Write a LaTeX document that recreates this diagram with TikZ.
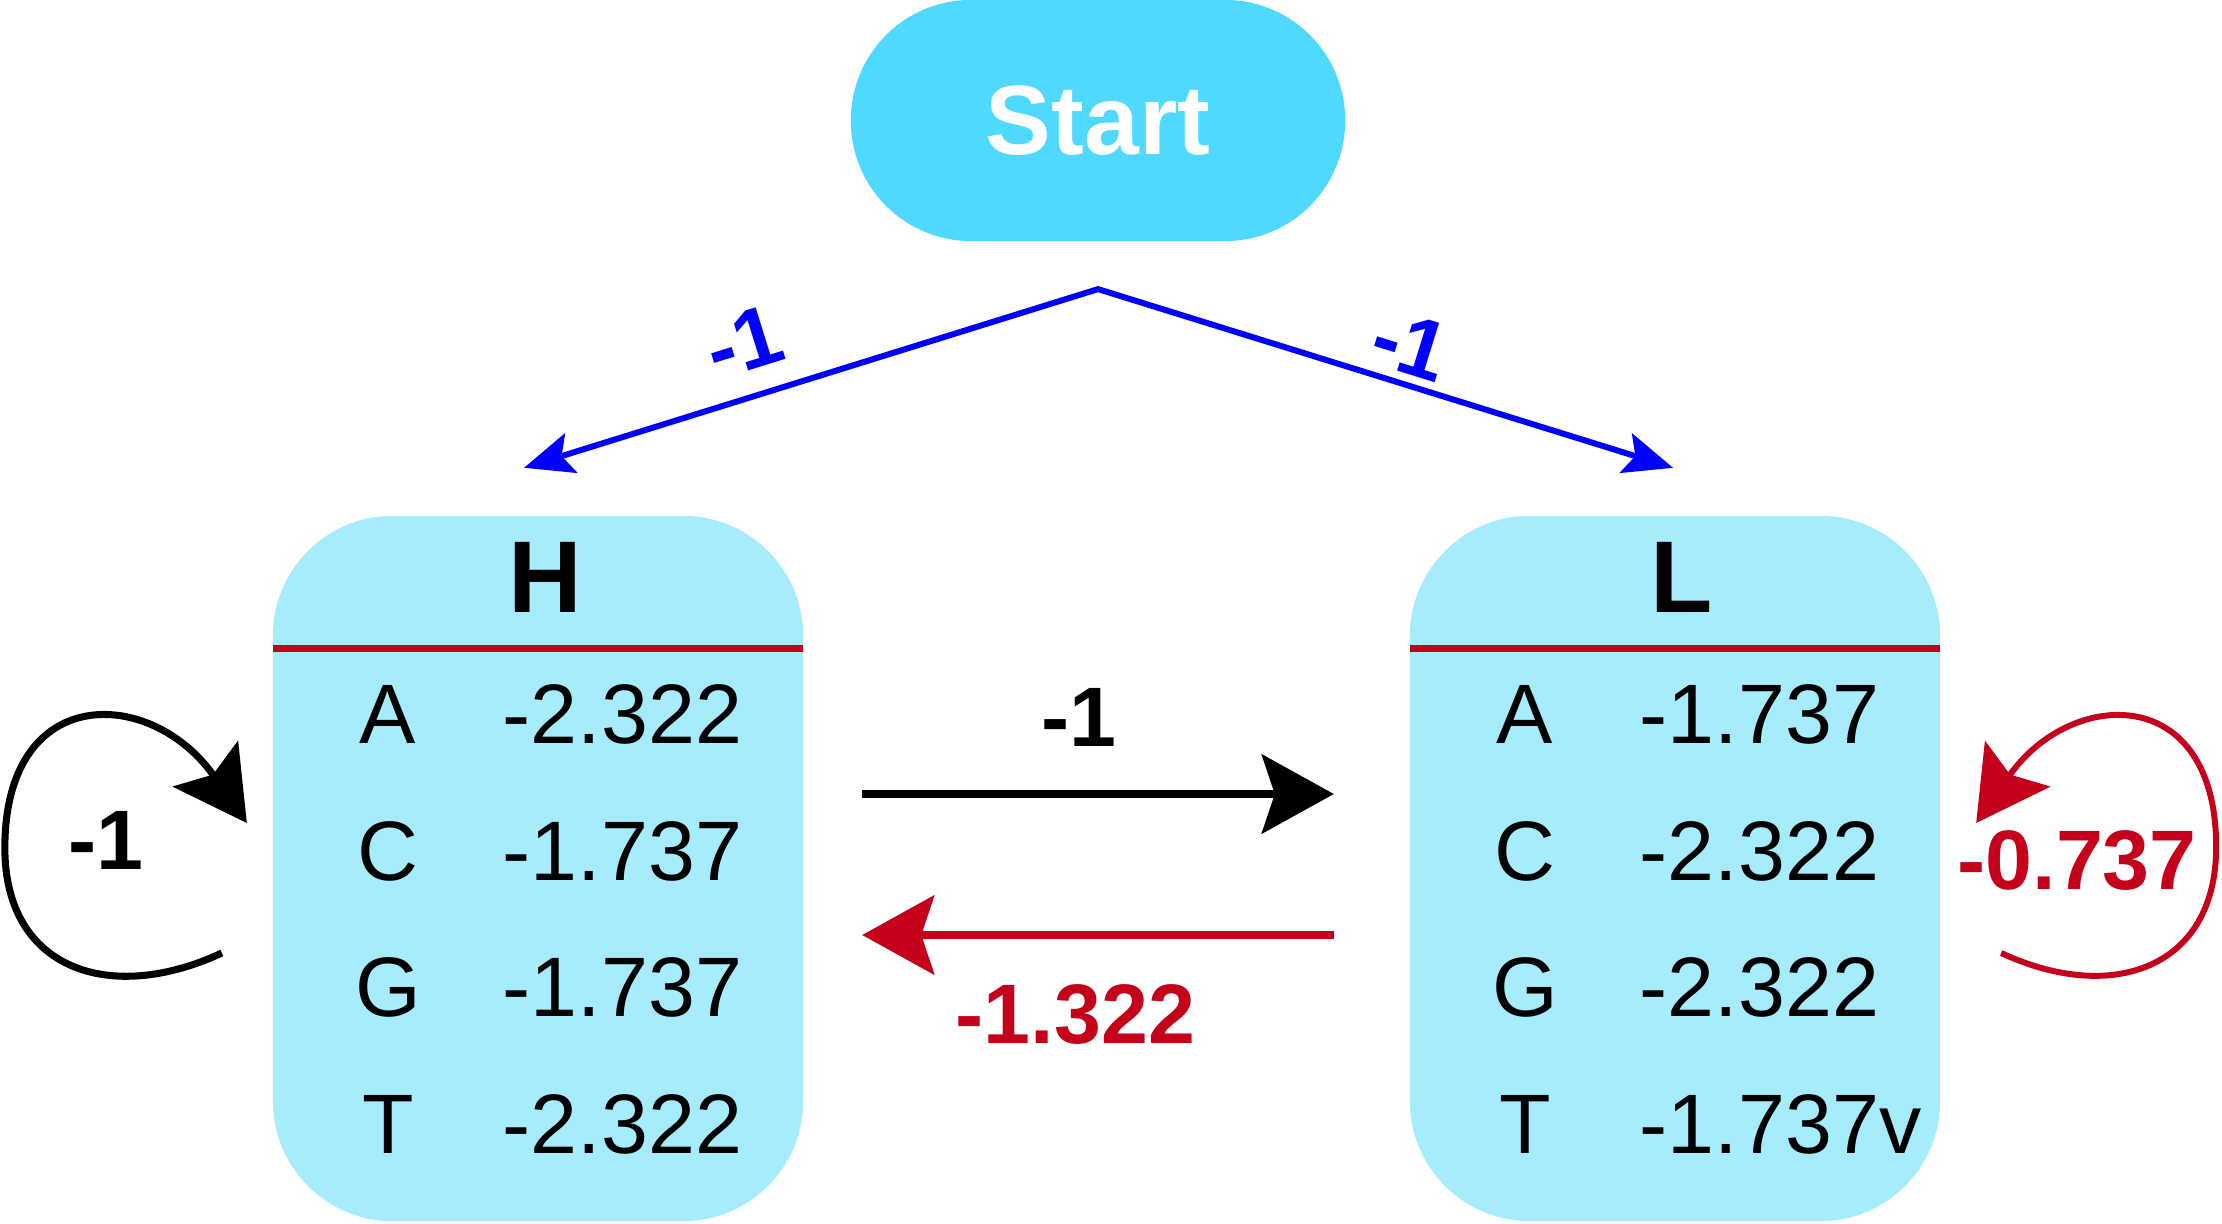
\documentclass[tikz,border=0pt]{standalone}
\usepackage{fontspec}
\setmainfont{Liberation Sans}
\usetikzlibrary{positioning,calc,arrows.meta}
\definecolor{startcyan}{RGB}{79,217,255}
\definecolor{statecyan}{RGB}{166,236,253}
\definecolor{hmmred}{RGB}{197,0,26}
\definecolor{hmmblue}{RGB}{0,0,255}
\tikzset{
  hmmpic/.style={
    x=0.01cm, y=0.01cm
    ,inner sep=0pt
    ,outer sep=0pt
  }
  ,startnode/.style={rectangle, rounded corners=1.2cm, fill=startcyan
    ,minimum width=4.94cm, minimum height=2.41cm
    ,font=\fontsize{28}{32}\selectfont\bfseries\color{white}}
  ,statebox/.style={rectangle, rounded corners=1.2cm, fill=statecyan
    ,minimum width=5.3cm, minimum height=7.05cm}
  ,statename/.style={font=\fontsize{29}{33}\selectfont\bfseries}
  ,divider/.style={draw=hmmred, line width=2pt}
  ,basecell/.style={font=\fontsize{24}{28}\selectfont}
  ,valcell/.style={basecell, anchor=west}
  ,weight/.style={font=\fontsize{24}{28}\selectfont\bfseries}
  ,bigtip/.style={-{Stealth[length=20.5pt,width=22.5pt,inset=3.7pt]}}
  ,startedge/.style={draw=hmmblue, line width=1.7pt
    ,>={Stealth[length=14pt,width=11.7pt,inset=2.8pt]}, <->}
  ,fwdedge/.style={draw=black, line width=2pt, bigtip}
  ,backedge/.style={draw=hmmred, line width=2pt, bigtip}
  ,selfloop/.style={line width=2pt, bigtip}
}
\newcommand\stateblock[3]{% name, centre, title
  \node[statebox] (#1) at (#2) {};
  \node[statename] (#1name) at ([shift={(7,-62)}]#1.north) {#3};
  \draw[divider] ([shift={(0,-133)}]#1.north west) -- ([shift={(0,-133)}]#1.north east);
}
\newcommand\emissions[2]{% name, base/value list
  \foreach \base/\val [count=\i] in {#2}{
    \node[basecell] (#1base\i) at ([shift={(115,{-199-136.5*(\i-1)})}]#1.north west) {\base};
    \node[valcell] (#1val\i) at ([shift={(230,{-199-136.5*(\i-1)})}]#1.north west) {\val};
  }
}

\begin{document}
\begin{tikzpicture}[hmmpic]
  \useasboundingbox (0,0) rectangle (2222,1223);
  % start state
  \node[startnode] (start) at (1098,1102.5) {Start};
  \coordinate[below=0.48cm of start] (fork);
  % hidden states
  \stateblock{H}{538,354.5}{H}
  \stateblock{L}{1675,354.5}{L}
  \emissions{H}{A/-2.322, C/-1.737, G/-1.737, T/-2.322}
  \emissions{L}{A/-1.737, C/-2.322, G/-2.322, T/-1.737v}
  % start transitions
  \coordinate (Hin) at ([shift={(-14,48)}]H.north);
  \coordinate (Lin) at ([shift={(-2,48)}]L.north);
  \draw[startedge] (Hin)
    -- node[weight, sloped, pos=0.412, above=7.4pt, text=hmmblue] (wSH) {-1} (fork)
    -- node[weight, sloped, pos=0.523, above=3.1pt, text=hmmblue] (wSL) {-1} (Lin);
  % H <-> L
  \coordinate (HLout) at ([shift={(59,74.5)}]H.east);
  \coordinate (HLin) at ([shift={(-76,74.5)}]L.west);
  \draw[fwdedge] (HLout) -- node[weight, pos=0.459, above=13.5pt] (wHL) {-1} (HLin);
  \coordinate (LHout) at ([shift={(-76,-66.5)}]L.west);
  \coordinate (LHin) at ([shift={(59,-66.5)}]H.east);
  \draw[backedge] (LHout) -- node[weight, pos=0.548, below=14pt, text=hmmred] (wLH) {-1.322} (LHin);
  % self loops
  \coordinate (Hloopout) at ([shift={(-51,-84.5)}]H.west);
  \coordinate (Hloopleft) at ([shift={(-268,20.5)}]H.west);
  \coordinate (Hloopin) at ([shift={(-26,45.5)}]H.west);
  \draw[selfloop] (Hloopout) to[out=205,in=270,looseness=1.3] (Hloopleft)
    to[out=90,in=125,looseness=1.75] (Hloopin);
  \node[weight] (wHH) at ([shift={(-167,28.5)}]H.west) {-1};
  \coordinate (Lloopout) at ([shift={(61,-84.5)}]L.east);
  \coordinate (Lloopright) at ([shift={(276,21.5)}]L.east);
  \coordinate (Lloopin) at ([shift={(36,45.5)}]L.east);
  \draw[selfloop, draw=hmmred, line width=1.7pt] (Lloopout) to[out=-25,in=270,looseness=1.3] (Lloopright)
    to[out=90,in=55,looseness=1.75] (Lloopin);
  \node[weight, text=hmmred] (wLL) at ([shift={(137,8.5)}]L.east) {-0.737};
\end{tikzpicture}
\end{document}
